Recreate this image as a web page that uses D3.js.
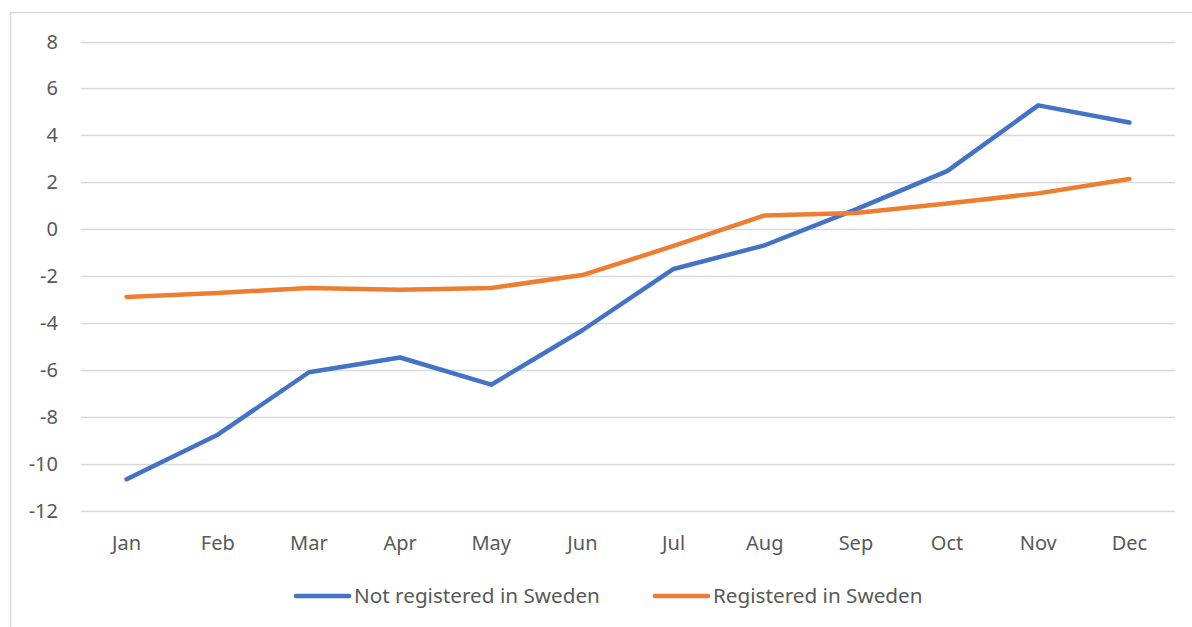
<!DOCTYPE html>
<html>
<head>
<meta charset="utf-8">
<script src="https://cdn.jsdelivr.net/npm/d3@7"></script>
<style>
  html, body { margin: 0; padding: 0; background: #fff; }
  text { font-family: "Noto Sans", "Open Sans", sans-serif; fill: #595959; }
</style>
</head>
<body>
<div id="chart"></div>
<script>
// months along the x axis
var months = ["Jan", "Feb", "Mar", "Apr", "May", "Jun", "Jul", "Aug", "Sep", "Oct", "Nov", "Dec"];
// values
var notRegistered = [-10.65, -8.75, -6.09, -5.46, -6.62, -4.3, -1.69, -0.68, 0.85, 2.48, 5.28, 4.55];
var registered = [-2.88, -2.71, -2.5, -2.57, -2.5, -1.95, -0.71, 0.59, 0.69, 1.1, 1.53, 2.14];
var seriesNames = ["Not registered in Sweden", "Registered in Sweden"];
var yTicks = [-12, -10, -8, -6, -4, -2, 0, 2, 4, 6, 8];

var width = 1192,
    height = 627;
var margin = { left: 81, right: 17, top: 41.5, bottom: 116 };
var colors = ["#4472C4", "#ED7D31"];

var svg = d3.select("#chart")
  .append("svg")
    .attr("width", width)
    .attr("height", height);

// chart frame (cropped on the right and bottom)
svg.append("path")
  .attr("d", "M10.5," + height + "V12.5H" + width)
  .attr("fill", "none")
  .attr("stroke", "#d9d9d9")
  .attr("stroke-width", 1.5);

var x = d3.scaleBand()
  .domain(months)
  .range([margin.left, width - margin.right]);

var y = d3.scaleLinear()
  .domain([-12, 8])
  .range([height - margin.bottom, margin.top]);

// gridlines
svg.append("g")
  .selectAll("line")
  .data(yTicks)
  .enter()
    .append("line")
    .attr("x1", margin.left)
    .attr("x2", width - margin.right)
    .attr("y1", function(d) { return Math.round(y(d)) + 0.5; })
    .attr("y2", function(d) { return Math.round(y(d)) + 0.5; })
    .attr("stroke", "#d9d9d9")
    .attr("stroke-width", 1.3);

// y labels
svg.append("g")
  .selectAll("text")
  .data(yTicks)
  .enter()
    .append("text")
    .attr("x", 58)
    .attr("y", function(d) { return y(d); })
    .attr("dy", "0.35em")
    .attr("text-anchor", "end")
    .style("font-size", "20px")
    .text(function(d) { return d; });

// x labels
svg.append("g")
  .selectAll("text")
  .data(months)
  .enter()
    .append("text")
    .attr("x", function(d) { return x(d) + x.bandwidth() / 2; })
    .attr("y", 543)
    .attr("dy", "0.35em")
    .attr("text-anchor", "middle")
    .style("font-size", "20px")
    .text(function(d) { return d; });

var line = d3.line()
  .x(function(d, i) { return x(months[i]) + x.bandwidth() / 2; })
  .y(function(d) { return y(d); });

[notRegistered, registered].forEach(function(values, i) {
  svg.append("path")
    .datum(values)
    .attr("d", line)
    .attr("fill", "none")
    .attr("stroke", colors[i])
    .attr("stroke-width", 4.5)
    .attr("stroke-linejoin", "round")
    .attr("stroke-linecap", "round");
});

// legend
var legendX = [296, 655];
var legend = svg.append("g")
  .selectAll("g")
  .data(seriesNames)
  .enter()
    .append("g")
    .attr("transform", function(d, i) { return "translate(" + legendX[i] + ",596)"; });

legend.append("line")
  .attr("x1", 0)
  .attr("x2", 53)
  .attr("stroke", function(d, i) { return colors[i]; })
  .attr("stroke-width", 4.5)
  .attr("stroke-linecap", "round");

legend.append("text")
  .attr("x", 58)
  .attr("dy", "0.35em")
  .style("font-size", "20.7px")
  .text(function(d) { return d; });
</script>
</body>
</html>
